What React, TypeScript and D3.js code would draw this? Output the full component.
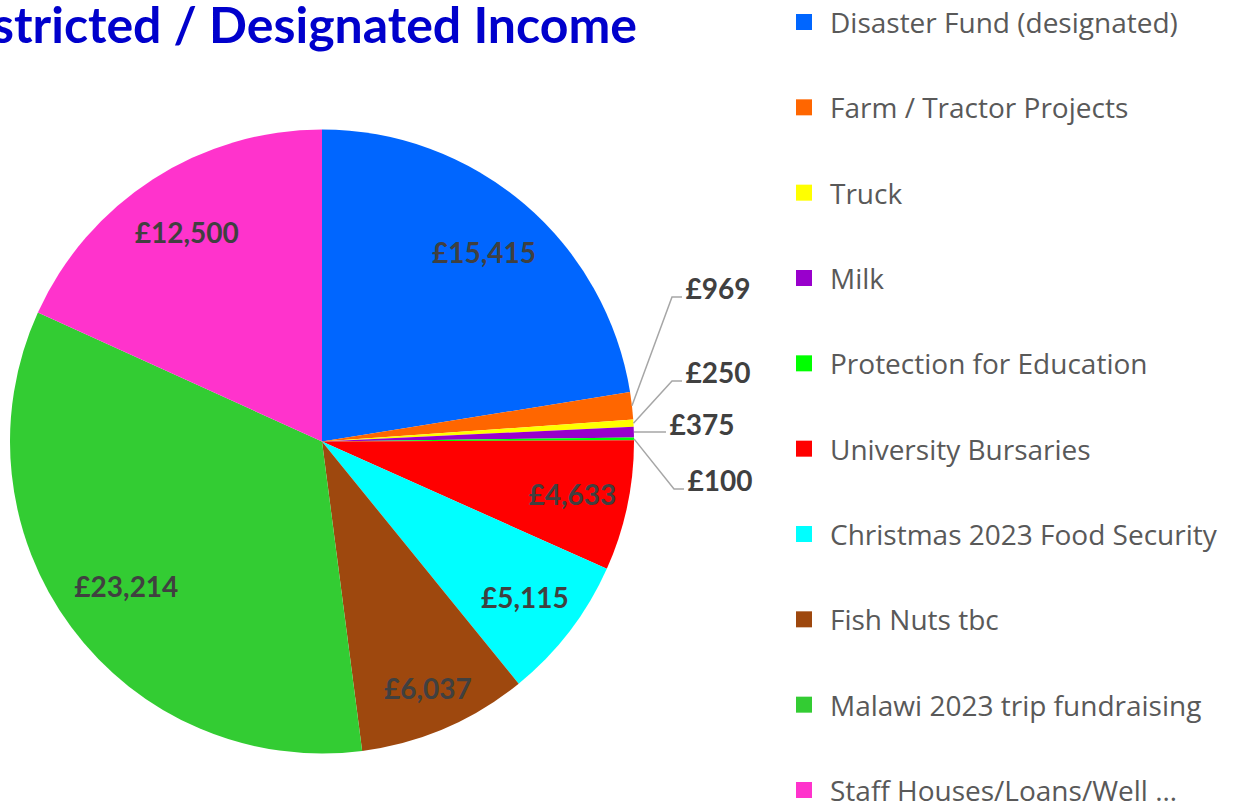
import React from "react";
import * as d3 from "d3";

const categories = [
  "Disaster Fund (designated)",
  "Farm / Tractor Projects",
  "Truck",
  "Milk",
  "Protection for Education",
  "University Bursaries",
  "Christmas 2023 Food Security",
  "Fish Nuts tbc",
  "Malawi 2023 trip fundraising",
  "Staff Houses/Loans/Well …",
];
const values = [15415, 969, 250, 375, 100, 4633, 5115, 6037, 23214, 12500];
const colors = [
  "#0066FF",
  "#FF6600",
  "#FFFF00",
  "#9900CC",
  "#00FF00",
  "#FF0000",
  "#00FFFF",
  "#9E480E",
  "#33CC33",
  "#FF33CC",
];
// label layout (style, not data): outside labels for thin slices
const outsideLabels = [
  { i: 1, lx: 718, ly: 288 },
  { i: 2, lx: 718, ly: 372 },
  { i: 3, lx: 702, ly: 424 },
  { i: 4, lx: 720, ly: 480 },
];
// radial factor for inside labels
const insideRadius = [0.8, 0, 0, 0, 0, 0.82, 0.82, 0.86, 0.78, 0.8];

const W = 1233;
const H = 805;
const cx = 322;
const cy = 441.5;
const R = 312;

export default function App() {
  const pie = d3.pie<number>().sort(null).value((d) => d);
  const arcs = pie(values);
  const arcGen = d3.arc<d3.PieArcDatum<number>>().innerRadius(0).outerRadius(R);
  const fmt = (v: number) => "£" + d3.format(",")(v);
  const outsideSet = new Set(outsideLabels.map((o) => o.i));
  const legendY = d3.scalePoint<number>().domain(d3.range(categories.length)).range([22, 790]);
  const font = "Lato, 'Open Sans', sans-serif";

  return (
    <svg
      width={W}
      height={H}
      style={{ position: "fixed", left: 0, top: 0, background: "#fff" }}
      fontFamily={font}
    >
      <text x={637} y={43} textAnchor="end" fontSize={50} fontWeight="bold" fill="#0000CC">
        Restricted / Designated Income
      </text>
      <g transform={`translate(${cx},${cy})`}>
        {arcs.map((a, i) => (
          <path key={i} d={arcGen(a) || ""} fill={colors[i]} />
        ))}
        {arcs.map((a, i) => {
          if (outsideSet.has(i)) return null;
          const r = R * insideRadius[i];
          const [x, y] = d3.arc<d3.PieArcDatum<number>>().innerRadius(r).outerRadius(r).centroid(a);
          return (
            <text
              key={"l" + i}
              x={x}
              y={y}
              textAnchor="middle"
              dominantBaseline="central"
              fontSize={28}
              fontWeight="bold"
              fill="#404040"
            >
              {fmt(values[i])}
            </text>
          );
        })}
      </g>
      {outsideLabels.map((o) => {
        const a = arcs[o.i];
        const mid = (a.startAngle + a.endAngle) / 2;
        const px = cx + Math.sin(mid) * R;
        const py = cy - Math.cos(mid) * R;
        const ey = o.ly + 9;
        const straight = Math.abs(ey - py) < 12;
        const pts: [number, number][] = straight
          ? [
              [px, py],
              [o.lx - 36, py],
            ]
          : [
              [px, py],
              [o.lx - 46, ey],
              [o.lx - 36, ey],
            ];
        return (
          <g key={"o" + o.i}>
            <path d={d3.line()(pts) || ""} fill="none" stroke="#A6A6A6" strokeWidth={1.5} />
            <text
              x={o.lx}
              y={o.ly}
              textAnchor="middle"
              dominantBaseline="central"
              fontSize={28}
              fontWeight="bold"
              fill="#404040"
            >
              {fmt(values[o.i])}
            </text>
          </g>
        );
      })}
      {categories.map((c, i) => (
        <g key={"lg" + i} transform={`translate(796,${legendY(i)})`}>
          <rect x={0} y={-8} width={16} height={16} fill={colors[i]} />
          <text
            x={34}
            y={0}
            dominantBaseline="central"
            fontSize={28}
            fill="#595959"
            fontFamily="'Open Sans', sans-serif"
          >
            {c}
          </text>
        </g>
      ))}
    </svg>
  );
}
